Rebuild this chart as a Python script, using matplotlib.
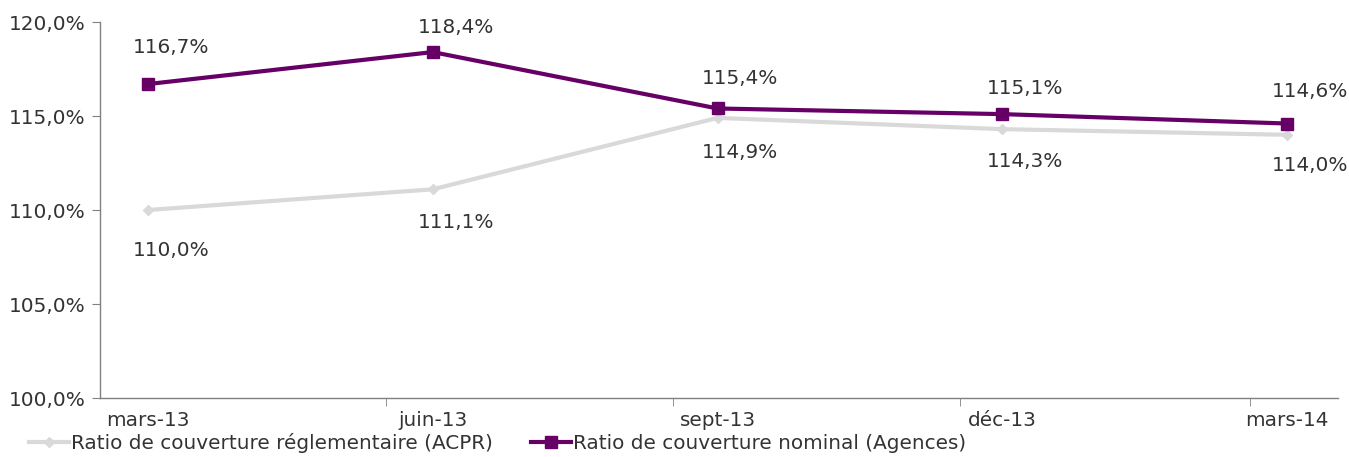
import matplotlib
matplotlib.use('Agg')
import matplotlib.pyplot as plt
import numpy as np

# Données
mois = ['mars-13', 'juin-13', 'sept-13', 'déc-13', 'mars-14']
ratio_acpr = [110.0, 111.1, 114.9, 114.3, 114.0]
ratio_nominal = [116.7, 118.4, 115.4, 115.1, 114.6]
etiquettes_acpr = ['110,0%', '111,1%', '114,9%', '114,3%', '114,0%']
etiquettes_nominal = ['116,7%', '118,4%', '115,4%', '115,1%', '114,6%']

# décalage vertical des étiquettes (points)
dy_nominal = [26.6, 18, 21.6, 18.7, 23]
dy_acpr = [-28.8, -23.8, -25.2, -23, -22.3]

gris = '#d9d9d9'
violet = '#660066'
texte = '#333333'

plt.rcParams['font.family'] = ['DejaVu Sans']
plt.rcParams['font.size'] = 14.4

fig = plt.figure(figsize=(13.49, 4.57), dpi=100)
ax = fig.add_axes([100/1349, 59/457, 1238/1349, 376/457])

x = np.arange(len(mois))
ax.plot(x, ratio_acpr, color=gris, lw=3, marker='D', ms=5.5, mfc=gris, mec=gris,
        label='Ratio de couverture réglementaire (ACPR)', zorder=2)
ax.plot(x, ratio_nominal, color=violet, lw=3, marker='s', ms=8.5, mfc=violet, mec=violet,
        label='Ratio de couverture nominal (Agences)', zorder=3)

for i in x:
    ax.annotate(etiquettes_nominal[i], (i, ratio_nominal[i]), xytext=(16.5, dy_nominal[i]),
                textcoords='offset points', ha='center', va='center', color=texte)
    ax.annotate(etiquettes_acpr[i], (i, ratio_acpr[i]), xytext=(16.5, dy_acpr[i]),
                textcoords='offset points', ha='center', va='center', color=texte)

ax.set_xlim(-0.1686, 4.179)
ax.set_ylim(100, 120)
ax.set_yticks([100, 105, 110, 115, 120])
ax.set_yticklabels(['100,0%', '105,0%', '110,0%', '115,0%', '120,0%'])
ax.set_xticks(x)
ax.set_xticklabels(mois)
ax.set_xticks([0.836, 1.844, 2.852, 3.87], minor=True)
ax.tick_params(axis='x', which='major', length=0, pad=9, colors=texte)
ax.tick_params(axis='x', which='minor', length=6, direction='out', color='#808080')
ax.tick_params(axis='y', length=6, direction='out', color='#808080', colors=texte, pad=4.5)
ax.tick_params(axis='y', which='major', color='#808080')

for s in ['top', 'right']:
    ax.spines[s].set_visible(False)
for s in ['left', 'bottom']:
    ax.spines[s].set_color('#808080')
    ax.spines[s].set_linewidth(1)

leg = fig.legend(loc='lower left', bbox_to_anchor=(0.008, -0.03), ncol=2, frameon=False,
                 handlelength=2.0, handletextpad=0.1, columnspacing=1.9)
for t in leg.get_texts():
    t.set_color(texte)

fig.savefig('out.png', dpi=100)
